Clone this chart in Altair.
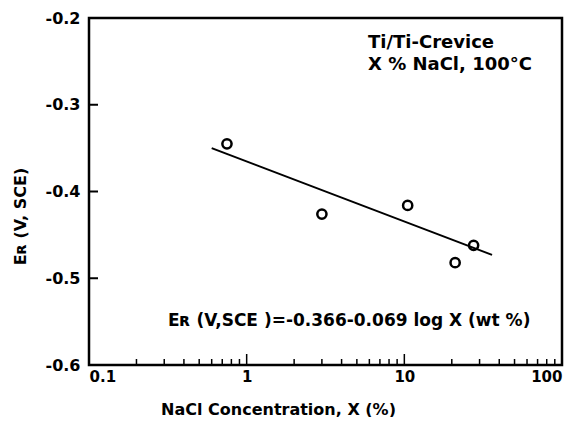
import altair as alt
import pandas as pd

# Measured points
conc = [0.75, 3.0, 10.5, 21.0, 27.5]
er = [-0.345, -0.426, -0.416, -0.482, -0.462]

# Fitted line end points
line_x = [0.6, 36.0]
line_y = [-0.350, -0.473]

y_ticks = [-0.2, -0.3, -0.4, -0.5, -0.6]
x_major = [0.1, 1, 10, 100]
x_minor = [m * d for d in [0.1, 1, 10] for m in range(2, 10)]
x_inner_major = [1, 10]

W, H = 473, 347
FONT = "DejaVu Sans"

xscale = alt.Scale(type="log", domain=[0.1, 100])
yscale = alt.Scale(domain=[-0.6, -0.2])

pts = pd.DataFrame({"x": conc, "y": er})
ln = pd.DataFrame({"x": line_x, "y": line_y})

base_x = alt.X("x:Q", scale=xscale,
               axis=alt.Axis(values=x_major, format="~g", ticks=False, domain=False, grid=False,
                             labelFont=FONT, labelFontSize=15, labelFontWeight="bold",
                             labelColor="black", labelPadding=4,
                             title="NaCl  Concentration, X (%)", titleFont=FONT,
                             titleFontSize=16, titleFontWeight="bold", titleColor="black",
                             titleX=189, titleY=49, titleBaseline="alphabetic"))
base_y = alt.Y("y:Q", scale=yscale,
               axis=alt.Axis(values=y_ticks, ticks=False, domain=False, grid=False,
                             labelExpr="replace(format(datum.value, '.1f'), '\u2212', '-')",
                             labelFont=FONT, labelFontSize=16, labelFontWeight="bold",
                             labelColor="black", labelPadding=9,
                             title="Eʀ (V, SCE)", titleFont=FONT, titleFontSize=16,
                             titleFontWeight="bold", titleColor="black",
                             titleX=-61, titleY=198))

points = alt.Chart(pts).mark_point(shape="circle", filled=False, size=85, strokeWidth=2.5,
                                   color="black", opacity=1).encode(x=base_x, y=base_y)

line = alt.Chart(ln).mark_line(color="black", strokeWidth=2).encode(
    x=alt.X("x:Q", scale=xscale), y=alt.Y("y:Q", scale=yscale))

ytick_df = pd.DataFrame({"y": y_ticks[1:-1]})
yticks = alt.Chart(ytick_df).mark_rule(color="black", strokeWidth=2).encode(
    y=alt.Y("y:Q", scale=yscale), x=alt.value(0), x2=alt.value(9))

minor_df = pd.DataFrame({"x": x_minor})
xminor = alt.Chart(minor_df).mark_rule(color="black", strokeWidth=1.5).encode(
    x=alt.X("x:Q", scale=xscale), y=alt.value(H), y2=alt.value(H - 6))

major_df = pd.DataFrame({"x": x_inner_major})
xmajor = alt.Chart(major_df).mark_rule(color="black", strokeWidth=1.5).encode(
    x=alt.X("x:Q", scale=xscale), y=alt.value(H), y2=alt.value(H - 11))

labels = ["Ti/Ti-Crevice", "X % NaCl, 100°C"]
lab_df = pd.DataFrame({"t": labels, "px": [279, 279], "py": [30, 52]})
annot = alt.Chart(lab_df).mark_text(align="left", baseline="alphabetic", font=FONT,
                                    fontSize=18, fontWeight="bold", color="black").encode(
    text="t:N", x=alt.X("px:Q", scale=None), y=alt.Y("py:Q", scale=None))

eq_df = pd.DataFrame({"t": ["Eʀ (V,SCE )=-0.366-0.069 log X  (wt %)"], "px": [79], "py": [308]})
eq = alt.Chart(eq_df).mark_text(align="left", baseline="alphabetic", font=FONT,
                                fontSize=17, fontWeight="bold", color="black").encode(
    text="t:N", x=alt.X("px:Q", scale=None), y=alt.Y("py:Q", scale=None))

chart = alt.layer(points, line, yticks, xminor, xmajor, annot, eq).properties(
    width=W, height=H,
    autosize=alt.AutoSizeParams(type="none"),
    padding={"left": 81, "top": 10, "right": 14, "bottom": 52},
    background="white",
).configure_view(stroke="black", strokeWidth=2.5)

chart.save("out.html", embed_options={"renderer": "svg", "actions": False})
